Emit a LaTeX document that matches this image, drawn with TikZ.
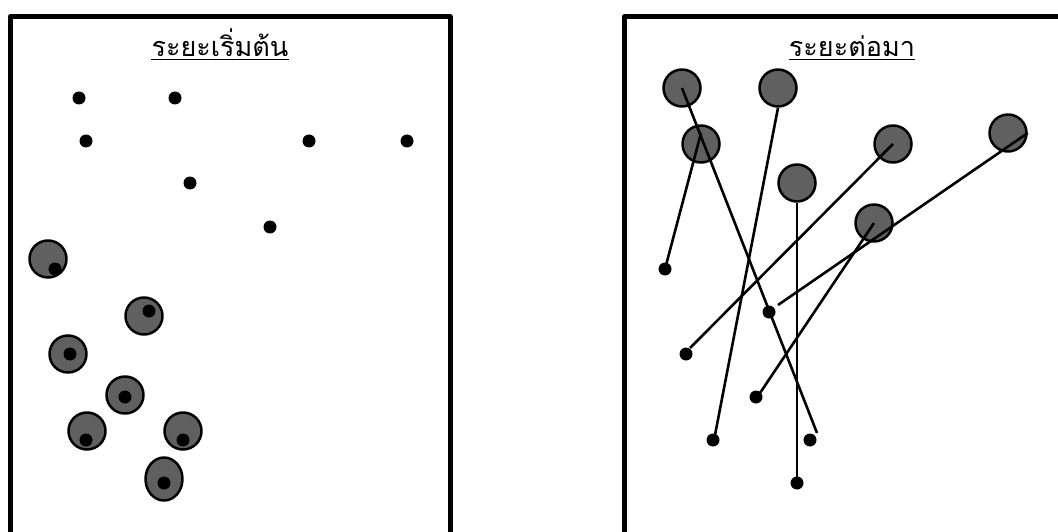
\documentclass[tikz,border=0pt]{standalone}
\usepackage{fontspec}
\newfontfamily\thaifont[Script=Thai]{Loma}
\usetikzlibrary{shapes.geometric}

\definecolor{ballgray}{HTML}{606060}
\tikzset{
  frame/.style={line width=5pt},
  ball/.style={circle,draw,line width=2.5pt,fill=ballgray,minimum size=37pt,inner sep=0pt},
  seed/.style={circle,fill=black,minimum size=13pt,inner sep=0pt},
  track/.style={line width=2.6pt},
  heading/.style={font=\thaifont\fontsize{27}{31}\selectfont,inner sep=0pt,anchor=base},
}

\begin{document}
\begin{tikzpicture}[x=1pt,y=-1pt,line join=round]
  \useasboundingbox (0,0) rectangle (1058,532);
  \clip (0,0) rectangle (1058,532);

  % ---------- frames (cut off at the bottom) ----------
  \draw[frame] (10,17) rectangle (450,580);
  \draw[frame] (624,17) rectangle (1064,580);

  % ---------- titles ----------
  \node[heading] (tStart) at (220,57) {ระยะเริ่มต้น};
  \draw[line width=1.3pt] ([yshift=-2.5pt]tStart.base west) -- ([yshift=-2.5pt]tStart.base east);
  \node[heading] (tLater) at (852,57) {ระยะต่อมา};
  \draw[line width=1.3pt] ([yshift=-2.5pt]tLater.base west) -- ([yshift=-2.5pt]tLater.base east);

  % ---------- left: free seeds ----------
  \node[seed] (s1) at (79,98) {};
  \node[seed] (s2) at (175,98) {};
  \node[seed] (s3) at (86,141) {};
  \node[seed] (s4) at (309,141) {};
  \node[seed] (s5) at (407,141) {};
  \node[seed] (s6) at (190,183) {};
  \node[seed] (s7) at (270,227) {};

  % ---------- left: seeds inside balls ----------
  \node[ball] (b1) at (48,259) {};
  \node[seed] (c1) at (55,269) {};
  \node[ball] (b2) at (144,316) {};
  \node[seed] (c2) at (149,311) {};
  \node[ball] (b3) at (68,354) {};
  \node[seed] (c3) at (70,354) {};
  \node[ball] (b4) at (125,395) {};
  \node[seed] (c4) at (125,397) {};
  \node[ball] (b5) at (87,431) {};
  \node[seed] (c5) at (86,440) {};
  \node[ball] (b6) at (183,431) {};
  \node[seed] (c6) at (183,440) {};
  \node[ball,ellipse,minimum width=37pt,minimum height=43pt] (b7) at (164,479) {};
  \node[seed] (c7) at (164,483) {};

  % ---------- right: balls moved away ----------
  \node[ball] (A) at (682,88) {};
  \node[ball] (B) at (778,88) {};
  \node[ball] (C) at (701,144) {};
  \node[ball] (D) at (893,144) {};
  \node[ball] (E) at (1008,133) {};
  \node[ball] (F) at (797,183) {};
  \node[ball] (G) at (874,223) {};

  % seeds left behind
  \node[seed] (tC) at (665,269) {};
  \node[seed] (tE) at (769,312) {};
  \node[seed] (tD) at (686,354) {};
  \node[seed] (tG) at (756,397) {};
  \node[seed] (tB) at (713,440) {};
  \node[seed] (tA) at (810,440) {};
  \node[seed] (tF) at (797,483) {};

  % line ends next to the seeds
  \coordinate (eA) at (817,433);
  \coordinate (eB) at (715,435);
  \coordinate (eD) at (690,348);
  \coordinate (eE) at (778,305);
  \coordinate (eG) at (760,393);

  % ---------- right: tracks ----------
  \draw[track] (A.center) -- (eA);
  \draw[track] (B.south) -- (eB);
  \draw[track] ([yshift=11pt]C.center) -- (tC.center);
  \draw[track] (D.center) -- (eD);
  \draw[track] (E.east) -- (eE);
  \draw[track] (F.south) -- (tF.center);
  \draw[track] (G.center) -- (eG);
\end{tikzpicture}
\end{document}
